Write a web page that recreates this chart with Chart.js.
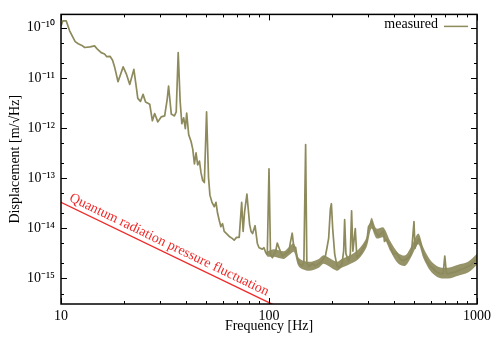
<!DOCTYPE html>
<html>
<head>
<meta charset="utf-8">
<script src="https://cdn.jsdelivr.net/npm/chart.js@4/dist/chart.umd.min.js"></script>
<style>
  html, body { margin: 0; padding: 0; background: #fff; }
  #wrap { width: 495px; height: 338px; }
</style>
</head>
<body>
<div id="wrap"><canvas id="noiseChart"></canvas></div>
<script>
// measured displacement spectrum
const measuredFreq = [
  10, 10.2, 10.6, 11.0, 11.7, 12.1, 12.6, 13.0, 13.8, 14.5,
  15.0, 15.6, 16.2, 16.6, 17.2, 17.7, 18.1, 18.8, 19.9, 20.6,
  21.4, 22.4, 23.0, 23.4, 24.1, 24.8, 25.5, 26.7, 27.5, 28.2,
  29.2, 30.3, 31.5, 32.4, 32.9, 33.9, 35.1, 35.8, 36.6, 37.4,
  38.1, 38.9, 39.6, 40.2, 41.1, 42.2, 43.0, 43.8, 44.6, 45.4,
  46.3, 47.1, 48.0, 48.9, 50.1, 51.2, 52.0, 53.2, 54.6, 55.6,
  56.6, 57.7, 58.7, 59.8, 60.9, 63.0, 64.4, 66.5, 68.0, 69.8,
  71.9, 73.9, 75.1, 76.3, 78.3, 79.4, 80.7, 82.0, 83.4, 85.7,
  87.9, 89.6, 92.9, 94.6, 96.4, 98.1, 100, 101.7, 103.9, 107.7,
  109.6, 112.5, 115.8, 120.2, 124.6, 127.0, 129.3, 131.7, 134.2, 136.6,
  139.2, 144.3, 147.1, 150, 152, 155.4, 161.2, 167.2, 173.5, 179.9,
  186.7, 190.0, 193.6, 197.3, 199.5, 202.4, 206.9, 212.2, 217.9, 224.2,
  228.5, 231.0, 234.4, 241.4, 246.0, 249.5, 253.1, 259.9, 264.5, 274.6,
  284.7, 295.3, 300.9, 312.0, 318.0, 329.8, 336.0, 342.3, 355.0, 358.9,
  368.1, 382.2, 396.4, 411.1, 426.7, 442.5, 458.9, 476.4, 484.8, 497.8,
  503.4, 512.4, 525.0, 537.9, 551.6, 572.0, 593.9, 615.9, 638.8, 663.1,
  687.7, 700, 713.1, 740.3, 782.1, 826.4, 873.2, 922.8, 975.0, 1000
];
const measuredDisp = [
  1.09e-10, 1.37e-10, 1.37e-10, 8.7e-11, 5.3e-11, 4.8e-11, 4.45e-11, 4.05e-11, 4.15e-11, 4.35e-11,
  3.7e-11, 3.2e-11, 3.0e-11, 2.65e-11, 2.7e-11, 2.25e-11, 1.66e-11, 8.4e-12, 1.66e-11, 1.21e-11,
  7.4e-12, 1.48e-11, 6.7e-12, 3.9e-12, 3.4e-12, 4.7e-12, 3.3e-12, 3.0e-12, 1.4e-12, 1.95e-12,
  1.33e-12, 1.67e-12, 1.75e-12, 3.75e-12, 6.9e-12, 1.9e-12, 1.75e-12, 2.1e-12, 3.2e-11, 3.4e-12,
  1.22e-12, 1.6e-12, 9.7e-13, 2.0e-12, 7.4e-13, 5.4e-13, 3.8e-13, 1.93e-13, 3.2e-13, 1.84e-13,
  2.2e-13, 1.29e-13, 9.0e-14, 8.2e-14, 2.1e-12, 1.03e-13, 4.6e-14, 3.3e-14, 2.7e-14, 3.3e-14,
  2.0e-14, 1.42e-14, 1.08e-14, 1.24e-14, 8.7e-15, 7.6e-15, 6.9e-15, 6.3e-15, 5.8e-15, 6.6e-15,
  6.6e-15, 3.3e-14, 8.7e-15, 2.1e-14, 4.8e-14, 2.55e-14, 1.19e-14, 8.7e-15, 7.9e-15, 1.13e-14,
  5.0e-15, 4.1e-15, 3.85e-15, 4.1e-15, 3.3e-15, 2.95e-15, 1.54e-13, 2.95e-15, 2.6e-15, 3.5e-15,
  5.1e-15, 3.8e-15, 2.8e-15, 3.1e-15, 3.5e-15, 5.5e-15, 8.0e-15, 4.1e-15, 4.2e-15, 2.6e-15,
  1.96e-15, 1.79e-15, 2.05e-15, 4.7e-13, 2.05e-15, 1.72e-15, 1.96e-15, 1.79e-15, 1.96e-15, 2.25e-15,
  2.8e-15, 4.1e-15, 6.4e-15, 2.45e-14, 3.1e-14, 9.9e-15, 3.1e-15, 1.79e-15, 1.66e-15, 1.96e-15,
  3.5e-15, 1.49e-14, 3.1e-15, 2.25e-15, 3.1e-15, 2.23e-14, 3.5e-15, 9.9e-15, 2.6e-15, 3.1e-15,
  4.1e-15, 5.5e-15, 1.08e-14, 1.36e-14, 9.9e-15, 7.9e-15, 6.9e-15, 7.6e-15, 8.7e-15, 5.5e-15,
  6.0e-15, 4.4e-15, 3.1e-15, 3.2e-15, 2.45e-15, 2.25e-15, 2.45e-15, 2.8e-15, 3.5e-15, 1.36e-14,
  4.0e-15, 5.0e-15, 6.3e-15, 4.8e-15, 3.2e-15, 2.25e-15, 1.79e-15, 1.57e-15, 1.34e-15, 1.25e-15,
  1.25e-15, 2.8e-15, 1.25e-15, 1.27e-15, 1.34e-15, 1.48e-15, 1.62e-15, 1.79e-15, 2.25e-15, 2.43e-15
];

// spread of the noisy floor above ~100 Hz (upper and lower edge of the band)
const bandFreq = [98, 105.7, 118, 124.6, 131.7, 139.2, 155.4, 173.5, 183.4, 211.5,
  223.6, 241.4, 269.6, 294.4, 311.1, 328.7, 355.0, 383.3, 418.8, 452.3,
  483.3, 522.1, 551.6, 595.9, 650.9, 726.6, 811.1, 905.5, 1000];
const bandUpper = [3.5e-15, 3.85e-15, 3.5e-15, 4.2e-15, 5.05e-15, 2.57e-15, 2.15e-15, 2.46e-15, 2.9e-15, 2.15e-15,
  2.46e-15, 2.8e-15, 3.85e-15, 6.6e-15, 1.63e-14, 9.9e-15, 1.04e-14, 5.5e-15, 3.2e-15, 2.9e-15,
  4.4e-15, 7.9e-15, 4.2e-15, 2.35e-15, 1.72e-15, 1.64e-15, 1.88e-15, 2.15e-15, 3.1e-15];
const bandLower = [2.7e-15, 2.7e-15, 2.46e-15, 2.9e-15, 3.4e-15, 1.72e-15, 1.43e-15, 1.64e-15, 1.96e-15, 1.43e-15,
  1.64e-15, 1.88e-15, 2.46e-15, 4.2e-15, 9.9e-15, 6.3e-15, 6.6e-15, 3.5e-15, 1.96e-15, 1.79e-15,
  2.7e-15, 4.8e-15, 2.57e-15, 1.43e-15, 1.05e-15, 1.0e-15, 1.14e-15, 1.31e-15, 1.88e-15];

// quantum radiation pressure line (1/f^2)
const qrpFreq = [10, 100, 1000];
const qrpDisp = [3.3e-14, 3.3e-16, 3.3e-18];
const qrpLabel = 'Quantum radiation pressure fluctuation';

// axes
const xRange = [10, 1000];
const yRange = [3.1e-16, 1.85e-10];
const xLabelTicks = [10, 100, 1000];
const xMinorSteps = [1, 2, 3, 4, 5, 6, 7, 8, 9];
const yMinorSteps = [1, 2, 5];

const olive = '#8d8a5c';
const red = '#ee2a2a';
const serif = '"Liberation Serif", "Times New Roman", serif';

Chart.defaults.font.family = serif;
Chart.defaults.font.size = 14;
Chart.defaults.color = '#000';

const sup = { '-': '\u207B', '0': '\u2070', '1': '\u00B9', '2': '\u00B2', '3': '\u00B3', '4': '\u2074', '5': '\u2075', '6': '\u2076', '7': '\u2077', '8': '\u2078', '9': '\u2079' };
function isDecade(v) {
  const e = Math.log10(v);
  return Math.abs(e - Math.round(e)) < 1e-9;
}
function logTicks(min, max, steps) {
  const out = [];
  for (let e = Math.floor(Math.log10(min)); e <= Math.ceil(Math.log10(max)); e++) {
    steps.forEach(m => {
      const v = Number(m + 'e' + e);
      if (v >= min * 0.999999 && v <= max * 1.000001) out.push({ value: v });
    });
  }
  return out;
}
const pts = (xs, ys) => xs.map((f, i) => ({ x: f, y: ys[i] }));

// inward ticks on all four sides, frame box, legend and the red label
const framePlugin = {
  id: 'frame',
  afterDatasetsDraw(chart) {
    const { ctx, chartArea: a, scales: { x, y } } = chart;
    ctx.save();
    ctx.strokeStyle = '#000';
    ctx.lineWidth = 1;
    ctx.beginPath();
    x.ticks.forEach(t => {
      const px = Math.round(x.getPixelForValue(t.value)) + 0.5;
      const len = isDecade(t.value) ? 6 : 3;
      ctx.moveTo(px, a.bottom); ctx.lineTo(px, a.bottom - len);
      ctx.moveTo(px, a.top); ctx.lineTo(px, a.top + len);
    });
    y.ticks.forEach(t => {
      const py = Math.round(y.getPixelForValue(t.value)) + 0.5;
      const len = isDecade(t.value) ? 6 : 3;
      ctx.moveTo(a.left, py); ctx.lineTo(a.left + len, py);
      ctx.moveTo(a.right, py); ctx.lineTo(a.right - len, py);
    });
    ctx.stroke();
    ctx.lineWidth = 1.5;
    ctx.strokeRect(a.left, a.top, a.right - a.left, a.bottom - a.top);

    // legend
    const ds = chart.data.datasets[0];
    ctx.font = '14px ' + serif;
    ctx.fillStyle = '#000';
    ctx.textAlign = 'right';
    ctx.textBaseline = 'middle';
    ctx.fillText(ds.label, a.right - 39, a.top + 10);
    ctx.strokeStyle = ds.borderColor;
    ctx.lineWidth = 1.5;
    ctx.beginPath();
    ctx.moveTo(a.right - 33, a.top + 12);
    ctx.lineTo(a.right - 9, a.top + 12);
    ctx.stroke();

    // label along the radiation pressure line
    const x0 = x.getPixelForValue(qrpFreq[0]), y0 = y.getPixelForValue(qrpDisp[0]);
    const x1 = x.getPixelForValue(qrpFreq[1]), y1 = y.getPixelForValue(qrpDisp[1]);
    ctx.translate(x0, y0);
    ctx.rotate(Math.atan2(y1 - y0, x1 - x0));
    ctx.fillStyle = red;
    ctx.textAlign = 'left';
    ctx.textBaseline = 'alphabetic';
    ctx.fillText(qrpLabel, 6, -5);
    ctx.restore();
  }
};

new Chart(document.getElementById('noiseChart'), {
  type: 'line',
  data: {
    datasets: [{
      label: 'measured',
      data: pts(measuredFreq, measuredDisp),
      borderColor: olive,
      borderWidth: 1.7,
      borderJoinStyle: 'round',
      pointRadius: 0,
      tension: 0,
      order: 0
    }, {
      label: 'band upper',
      data: pts(bandFreq, bandUpper),
      borderColor: 'transparent',
      borderWidth: 0,
      pointRadius: 0,
      tension: 0.3,
      fill: false,
      order: 2
    }, {
      label: 'band lower',
      data: pts(bandFreq, bandLower),
      borderColor: 'transparent',
      backgroundColor: 'rgba(141,138,92,0.92)',
      borderWidth: 0,
      pointRadius: 0,
      tension: 0.3,
      fill: '-1',
      order: 2
    }, {
      label: qrpLabel,
      data: pts(qrpFreq, qrpDisp),
      borderColor: red,
      borderWidth: 1.3,
      pointRadius: 0,
      tension: 0,
      order: 1
    }]
  },
  options: {
    responsive: true,
    maintainAspectRatio: false,
    animation: false,
    events: [],
    layout: { padding: { top: 9, right: 16, left: 0, bottom: 0 } },
    plugins: {
      legend: { display: false },
      tooltip: { enabled: false }
    },
    scales: {
      x: {
        type: 'logarithmic',
        min: xRange[0],
        max: xRange[1],
        bounds: 'data',
        afterBuildTicks: s => { s.ticks = logTicks(xRange[0], xRange[1], xMinorSteps); },
        afterFit: s => { s.height = 34; },
        grid: { display: false, drawTicks: false, tickLength: 0 },
        border: { display: false },
        ticks: {
          autoSkip: false,
          maxRotation: 0,
          padding: 4,
          callback: v => xLabelTicks.includes(v) ? String(v) : ''
        },
        title: { display: true, text: 'Frequency [Hz]', padding: { top: 0, bottom: 3 } }
      },
      y: {
        type: 'logarithmic',
        min: yRange[0],
        max: yRange[1],
        bounds: 'data',
        afterBuildTicks: s => { s.ticks = logTicks(yRange[0], yRange[1], yMinorSteps); },
        afterFit: s => { s.width = 61; },
        grid: { display: false, drawTicks: false, tickLength: 0 },
        border: { display: false },
        ticks: {
          autoSkip: false,
          padding: 6,
          callback: v => isDecade(v) ? '10' + String(Math.round(Math.log10(v))).split('').map(ch => sup[ch]).join('') : ''
        },
        title: { display: true, text: 'Displacement [m/\u221AHz]', padding: { top: 7, bottom: 0 } }
      }
    }
  },
  plugins: [framePlugin]
});
</script>
</body>
</html>
